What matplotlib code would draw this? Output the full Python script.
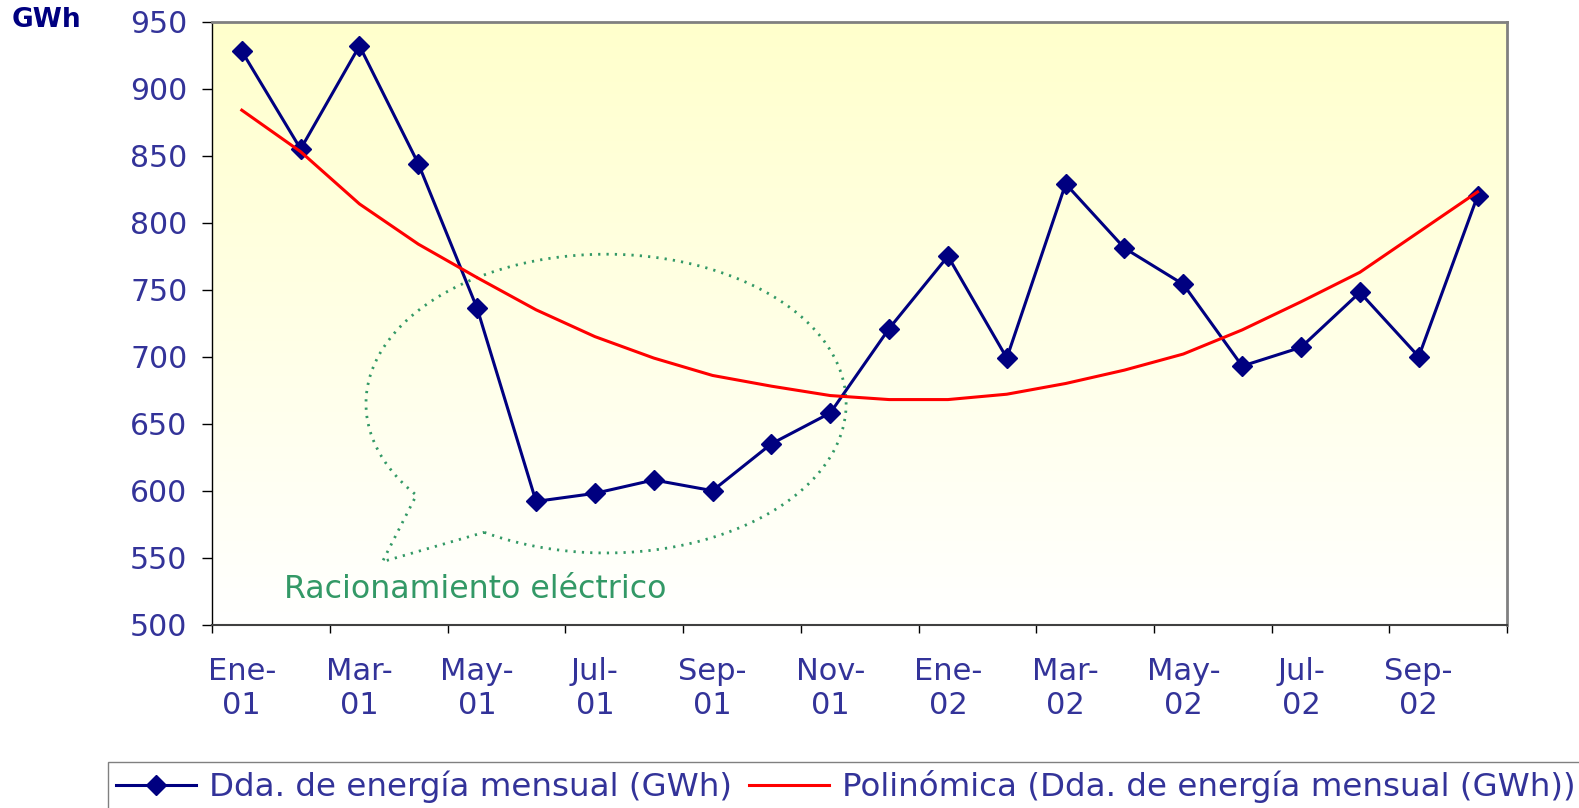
import matplotlib.pyplot as plt
import numpy as np
from matplotlib.path import Path
from matplotlib.patches import PathPatch

plt.rcParams['font.family'] = 'DejaVu Sans'

# Data
months = ['Ene-\n01', 'Feb-\n01', 'Mar-\n01', 'Abr-\n01', 'May-\n01', 'Jun-\n01',
          'Jul-\n01', 'Ago-\n01', 'Sep-\n01', 'Oct-\n01', 'Nov-\n01', 'Dic-\n01',
          'Ene-\n02', 'Feb-\n02', 'Mar-\n02', 'Abr-\n02', 'May-\n02', 'Jun-\n02',
          'Jul-\n02', 'Ago-\n02', 'Sep-\n02', 'Oct-\n02']
demand = [928, 855, 932, 844, 736, 592, 598, 608, 600, 635, 658, 721,
          775, 699, 829, 781, 754, 693, 707, 748, 700, 820]
trend = [884, 853, 814, 784, 759, 735, 715, 699, 686, 678, 671, 668,
         668, 672, 680, 690, 702, 720, 741, 763, 793, 823]
y_ticks = list(range(500, 951, 50))

label_col = '#333399'
green = '#339966'

fig = plt.figure(figsize=(15.79, 8.08), dpi=100)
ax = fig.add_axes([0.1345, 0.2269, 0.8199, 0.7462])

x = np.arange(len(months))

# background gradient (light yellow at top -> white)
grad = np.linspace(0, 1, 256).reshape(-1, 1)
top = np.array([1.0, 1.0, 0.80])
bot = np.array([1.0, 1.0, 1.0])
img = top[None, None, :] * (1 - grad[..., None]) + bot[None, None, :] * grad[..., None]
ax.imshow(img, extent=[0, 1, 0, 1], transform=ax.transAxes, aspect='auto', zorder=0)

# callout ellipse "Racionamiento electrico"
cx, cy, rx, ry = 6.19, 665, 4.08, 111.5
th = np.radians(np.linspace(239.5, 577.8, 300))
ex = cx + rx * np.cos(th)
ey = cy + ry * np.sin(th)
verts = list(zip(ex, ey)) + [(2.39, 547), (ex[0], ey[0])]
ax.add_patch(PathPatch(Path(verts), fill=False, edgecolor=green, lw=2,
                       linestyle=(0, (0.8, 2.2)), capstyle='butt', zorder=2))
ax.text(0.72, 526, 'Racionamiento eléctrico', color=green, fontsize=22.8,
        ha='left', va='center', zorder=3)

ax.plot(x, demand, color='#000080', lw=2.2, marker='D', markersize=10.5,
        label='Dda. de energía mensual (GWh)', zorder=4)
ax.plot(x, trend, color='#FF0000', lw=2.2,
        label='Polinómica (Dda. de energía mensual (GWh))', zorder=5)

ax.set_xlim(-0.5, len(months) - 0.5)
ax.set_ylim(500, 950)
ax.set_yticks(y_ticks)
ax.set_xticks(x[::2])
ax.set_xticklabels(months[::2], linespacing=1.25)
ax.set_xticks(np.arange(-0.5, len(months), 2), minor=True)

ax.tick_params(axis='y', labelsize=21.5, labelcolor=label_col, length=7,
               width=1, direction='out', pad=11)
ax.tick_params(axis='x', which='major', labelsize=22, labelcolor=label_col,
               length=0, pad=23)
ax.tick_params(axis='x', which='minor', length=6, width=1, direction='out')

for s in ['top', 'right']:
    ax.spines[s].set_color('#808080')
    ax.spines[s].set_linewidth(2)
ax.spines['left'].set_color('black')
ax.spines['left'].set_linewidth(1)
ax.spines['bottom'].set_color('#404040')
ax.spines['bottom'].set_linewidth(1.5)

fig.text(12 / 1579, 1 - 20 / 808, 'GWh', color='#000080', fontsize=19,
         fontweight='bold', ha='left', va='center')

leg = ax.legend(loc='upper left', bbox_to_anchor=(107.8 / 1579, 1 - 762 / 808),
                bbox_transform=fig.transFigure, ncol=2, fontsize=23.4,
                frameon=True, fancybox=False, borderaxespad=0, borderpad=0.25,
                handlelength=2.45, handletextpad=0.4, columnspacing=0.55,
                labelcolor=label_col)
leg.get_frame().set_edgecolor('#606060')
leg.get_frame().set_linewidth(1)

plt.savefig('out.png', dpi=100, facecolor='white')
